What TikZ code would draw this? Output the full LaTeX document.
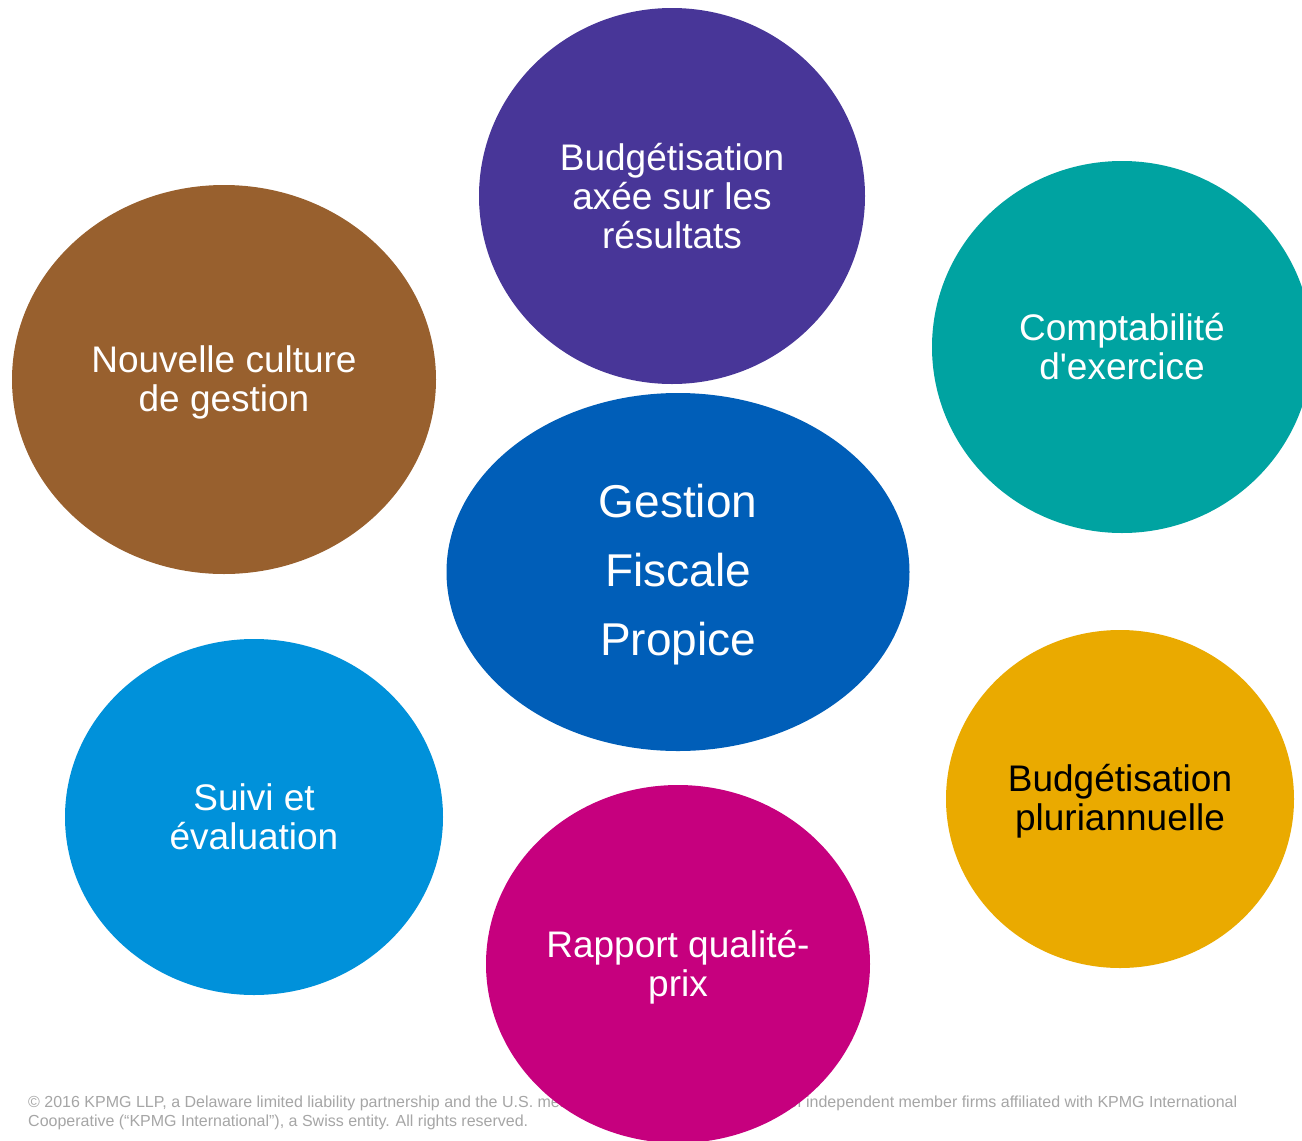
\documentclass[tikz,border=0pt]{standalone}
\usepackage{fontspec}
\setmainfont{Liberation Sans}
\usetikzlibrary{shapes.geometric}
\definecolor{cpurple}{HTML}{483698}
\definecolor{cteal}{HTML}{00A3A1}
\definecolor{cbrown}{HTML}{98602E}
\definecolor{cblue}{HTML}{005EB8}
\definecolor{clblue}{HTML}{0091DA}
\definecolor{cmag}{HTML}{C6007E}
\definecolor{cgold}{HTML}{EAAA00}
\definecolor{cfoot}{HTML}{A6A6A6}
\tikzset{
  bubble/.style={ellipse, inner sep=0pt},
  btext/.style={inner sep=0pt, align=center, text=white,
    font=\fontsize{37}{39}\selectfont},
  foot/.style={anchor=base west, inner sep=0pt, text=cfoot, font=\fontsize{16}{19}\selectfont}
}
\begin{document}
\begin{tikzpicture}[x=1pt,y=-1pt]
\useasboundingbox[fill=white] (0,0) rectangle (1302,1141);
\node[foot] (f1) at (28,1107) {© 2016 KPMG LLP, a Delaware limited liability partnership and the U.S. member firm of the KPMG network of independent member firms affiliated with KPMG International};
\node[foot] (f2) at (28,1126) {Cooperative (“KPMG International”), a Swiss entity. All rights reserved.};
\node[bubble, fill=cpurple, minimum width=386, minimum height=376] (p) at (672,196) {};
\node[btext] (pt) at (p.center) {Budgétisation\\axée sur les\\résultats};
\node[bubble, fill=cteal, minimum width=380, minimum height=372] (t) at (1122,347) {};
\node[btext] (tt) at (t.center) {Comptabilité\\d\textquotesingle exercice};
\node[bubble, fill=cbrown, minimum width=424, minimum height=389] (b) at (224,379.5) {};
\node[btext, yshift=-3pt] (bt) at (b.center) {Nouvelle culture\\de gestion};
\node[bubble, fill=cblue, minimum width=463, minimum height=358] (c) at (678,572) {};
\node[btext, yshift=-3pt, font=\fontsize{46}{69}\selectfont] (ct) at (c.center) {Gestion\\Fiscale\\Propice};
\node[bubble, fill=clblue, minimum width=378, minimum height=356] (l) at (254,817) {};
\node[btext] (lt) at (l.center) {Suivi et\\évaluation};
\node[bubble, fill=cmag, minimum width=384, minimum height=358] (m) at (678,964) {};
\node[btext, yshift=-3pt] (mt) at (m.center) {Rapport qualité-\\prix};
\node[bubble, fill=cgold, minimum width=348, minimum height=338] (g) at (1120,799) {};
\node[btext, yshift=-2pt, text=black] (gt) at (g.center) {Budgétisation\\pluriannuelle};
\end{tikzpicture}
\end{document}
